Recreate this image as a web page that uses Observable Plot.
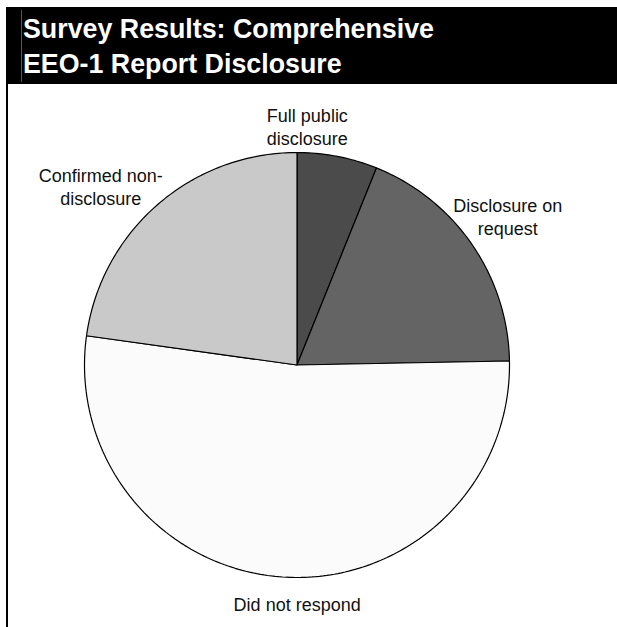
<!DOCTYPE html>
<html>
<head>
<meta charset="utf-8">
<script src="https://cdn.jsdelivr.net/npm/d3@7"></script>
<script src="https://cdn.jsdelivr.net/npm/@observablehq/plot@0.6"></script>
<style>
  html, body { margin: 0; padding: 0; background: #fff; }
  #page { position: relative; width: 617px; height: 627px; overflow: hidden; font-family: "Liberation Sans", Arial, sans-serif; }
  #banner { position: absolute; left: 6px; top: 7px; width: 611px; height: 77px; background: #000; }
  #bannerRule { position: absolute; left: 21px; top: 10px; width: 1px; height: 72px; background: #555; }
  #title { position: absolute; left: 23px; top: 11px; color: #fff; font-weight: bold; font-size: 28.5px; line-height: 35px; white-space: nowrap; transform: scaleX(0.94); transform-origin: 0 0; }
  #frame { position: absolute; left: 6px; top: 84px; width: 2px; height: 543px; background: #000; }
  #chart { position: absolute; left: 0; top: 84px; }
</style>
</head>
<body>
<div id="page">
  <div id="banner"></div>
  <div id="bannerRule"></div>
  <div id="title">Survey Results: Comprehensive<br>EEO-1 Report Disclosure</div>
  <div id="frame"></div>
  <div id="chart"></div>
</div>
<script>
// Data (clockwise from 12 o'clock), percent of respondents
const categories = ["Full public disclosure", "Disclosure on request", "Did not respond", "Confirmed non-disclosure"];
const shares = [6.1, 18.6, 52.5, 22.8];
const labelLines = ["Full public\ndisclosure", "Disclosure on\nrequest", "Did not respond", "Confirmed non-\ndisclosure"];

// Styling (not data)
const sliceColors = ["#4b4b4b", "#646464", "#fbfbfb", "#c9c9c9"];
const labelNudge = {
  "Full public disclosure": [-37, 5],
  "Disclosure on request": [6, -8],
  "Did not respond": [15, -10],
  "Confirmed non-disclosure": [-33, 9]
};
const labelRadius = 1.17;

const rows = categories.map((name, i) => ({name, value: shares[i], label: labelLines[i]}));
const arcs = d3.pie().sort(null).value(d => d.value)(rows);

// Slice outlines: center -> arc -> center (geometry sampling only)
const outline = [];
for (const a of arcs) {
  const steps = Math.max(2, Math.ceil((a.endAngle - a.startAngle) / (Math.PI / 180)));
  outline.push({name: a.data.name, x: 0, y: 0});
  for (let k = 0; k <= steps; k++) {
    const t = a.startAngle + (a.endAngle - a.startAngle) * k / steps;
    outline.push({name: a.data.name, x: Math.sin(t), y: Math.cos(t)});
  }
  outline.push({name: a.data.name, x: 0, y: 0});
}

const labelData = arcs.map(a => {
  const m = (a.startAngle + a.endAngle) / 2;
  return {name: a.data.name, label: a.data.label, x: labelRadius * Math.sin(m), y: labelRadius * Math.cos(m)};
});

const chart = Plot.plot({
  width: 617,
  height: 543,
  margin: 0,
  style: {background: "transparent", fontFamily: "'Liberation Sans', Arial, sans-serif"},
  x: {domain: [-1, 1], range: [84, 509], axis: null},
  y: {domain: [-1, 1], range: [493, 68], axis: null},
  color: {domain: categories, range: sliceColors},
  marks: [
    Plot.line(outline, {x: "x", y: "y", z: "name", fill: "name", stroke: "#000", strokeWidth: 1.2, strokeLinejoin: "miter"}),
    ...labelData.map(d => Plot.text([d], {
      x: "x", y: "y", text: "label",
      dx: labelNudge[d.name][0], dy: labelNudge[d.name][1],
      fontSize: 18, lineHeight: 1.28, lineAnchor: "middle", textAnchor: "middle", fill: "#111"
    }))
  ]
});
document.getElementById("chart").appendChild(chart);
</script>
</body>
</html>
